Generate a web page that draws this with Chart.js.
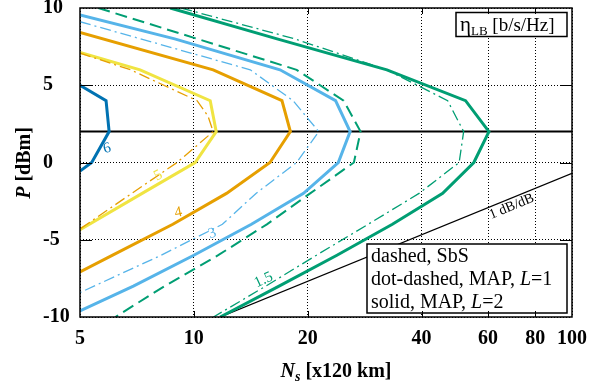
<!DOCTYPE html>
<html>
<head>
<meta charset="utf-8">
<script src="https://cdn.jsdelivr.net/npm/chart.js@4"></script>
<style>
  html, body { margin: 0; padding: 0; background: #fff; }
</style>
</head>
<body>
<canvas id="etaChart" width="605" height="387"></canvas>
<script>
// axis ticks
const xTicks = [5, 10, 20, 40, 60, 80, 100];
const yTicks = [-10, -5, 0, 5, 10];

// contours of eta_LB, each point is [Ns, P(dBm)]
const eta6Solid = [[5, 5], [5.86, 4], [5.97, 2], [5.37, 0], [5, -0.56]];
const eta5Solid = [[5, 7.12], [7.21, 6], [11.05, 4], [11.46, 2], [10.08, 0], [7.3, -2], [5, -4.35]];
const eta4DotDash = [[5, 7.08], [6.8, 6], [10.2, 4], [10.9, 3], [11.25, 2], [9.03, 0], [6.85, -2], [5, -4.3]];
const eta4Solid = [[5, 8.42], [11.25, 6], [17.1, 4], [18.0, 2], [15.9, 0], [12.2, -2], [8.8, -4], [6.1, -6], [5, -7.08]];
const eta3DotDash = [[5, 9.11], [14.1, 6], [18.3, 4], [21.4, 2], [18.7, 0], [14.6, -2], [11.9, -4], [8.2, -6], [5, -8.42]];
const eta3Solid = [[5, 9.55], [8.9, 8], [16.9, 6], [23.7, 4], [25.9, 2], [24.1, 0], [19.5, -2], [14.2, -4], [10, -6], [6.92, -8], [5, -9.61]];
const eta15Dash = [[5.59, 10], [18.7, 6], [24.9, 4], [27.6, 2], [26.5, 0], [20.3, -2], [15.6, -4], [11.6, -6], [8.37, -8], [6.2, -10]];
const eta15DotDash = [[9.26, 10], [18.5, 8], [32.4, 6], [46.9, 4], [51.7, 2], [50.3, 0], [39.4, -2], [28.9, -4], [21.1, -6], [15.5, -8], [11.27, -10]];
const eta15Solid = [[8.66, 10], [16.6, 8], [32.4, 6], [52.3, 4], [60.3, 2], [55, 0], [45.5, -2], [33.5, -4], [23.9, -6], [16.8, -8], [11.74, -10]];

// reference lines
const p2Line = [[5, 2], [100, 2]];
const slopeLine = [[11.74, -10], [100, -0.7]]; // 1 dB/dB

const colors = { blue: '#0072B2', yellow: '#F0E442', orange: '#E69F00', sky: '#56B4E9', green: '#009E73' };
const styles = {
  solid: { width: 3, dash: [] },
  dotdash: { width: 1.3, dash: [11, 4, 2, 4] },
  dash: { width: 2, dash: [12, 6] }
};

function curve(pts, color, style) {
  return {
    data: pts.map(p => ({ x: p[0], y: p[1] })),
    borderColor: color,
    borderWidth: styles[style].width,
    borderDash: styles[style].dash,
    pointRadius: 0,
    fill: false,
    tension: 0
  };
}

// draw text made of pieces with different fonts
function drawRich(ctx, segs, x, y, align) {
  let w = 0;
  segs.forEach(s => { ctx.font = s.font; s.w = ctx.measureText(s.text).width; w += s.w; });
  let cx = align === 'center' ? x - w / 2 : x;
  ctx.textAlign = 'left';
  segs.forEach(s => { ctx.font = s.font; ctx.fillText(s.text, cx, y + (s.dy || 0)); cx += s.w; });
}

const serif = '"Liberation Serif", "Times New Roman", serif';

const decor = {
  id: 'decor',
  afterDatasetsDraw(chart) {
    const { ctx, chartArea: a, scales: { x, y } } = chart;
    ctx.save();

    // contour level labels
    const labels = [
      { t: '6', ns: 5.9, p: 0.9, c: colors.blue, r: -15 },
      { t: '5', ns: 8.05, p: -0.84, c: colors.yellow, r: -28 },
      { t: '4', ns: 9.1, p: -3.25, c: colors.orange, r: -12 },
      { t: '3', ns: 11.2, p: -4.6, c: colors.sky, r: -18 },
      { t: '1.5', ns: 15.3, p: -7.6, c: colors.green, r: -25 }
    ];
    ctx.font = '15px ' + serif;
    ctx.textAlign = 'center';
    ctx.textBaseline = 'middle';
    labels.forEach(l => {
      ctx.save();
      ctx.translate(x.getPixelForValue(l.ns), y.getPixelForValue(l.p));
      ctx.rotate(l.r * Math.PI / 180);
      ctx.fillStyle = l.c;
      ctx.fillText(l.t, 0, 0);
      ctx.restore();
    });

    // 1 dB/dB label along the slope line
    const x1 = x.getPixelForValue(slopeLine[0][0]), y1 = y.getPixelForValue(slopeLine[0][1]);
    const x2 = x.getPixelForValue(slopeLine[1][0]), y2 = y.getPixelForValue(slopeLine[1][1]);
    const ang = Math.atan2(y2 - y1, x2 - x1);
    const lx = x.getPixelForValue(68);
    const ly = y1 + (lx - x1) * (y2 - y1) / (x2 - x1);
    ctx.save();
    ctx.translate(lx, ly);
    ctx.rotate(ang);
    ctx.fillStyle = '#000';
    ctx.font = '14px ' + serif;
    ctx.textAlign = 'center';
    ctx.textBaseline = 'top';
    ctx.fillText('1 dB/dB', 0, 1);
    ctx.restore();

    // legend box
    ctx.fillStyle = '#fff';
    ctx.strokeStyle = '#000';
    ctx.lineWidth = 1.5;
    ctx.fillRect(367, 244, 200, 69);
    ctx.strokeRect(367, 244, 200, 69);
    ctx.fillStyle = '#000';
    ctx.textBaseline = 'alphabetic';
    const f = '20px ' + serif, fi = 'italic 20px ' + serif;
    drawRich(ctx, [{ text: 'dashed, SbS', font: f }], 371, 262);
    drawRich(ctx, [{ text: 'dot-dashed, MAP, ', font: f }, { text: 'L', font: fi }, { text: '=1', font: f }], 371, 285);
    drawRich(ctx, [{ text: 'solid, MAP, ', font: f }, { text: 'L', font: fi }, { text: '=2', font: f }], 371, 308);

    // eta box
    ctx.fillStyle = '#fff';
    ctx.fillRect(456, 12.5, 111, 24);
    ctx.strokeRect(456, 12.5, 111, 24);
    ctx.fillStyle = '#000';
    drawRich(ctx, [
      { text: '\u03b7', font: '21px ' + serif },
      { text: 'LB', font: '13px ' + serif, dy: 4 },
      { text: ' [b/s/Hz]', font: '19px ' + serif }
    ], 460, 31);

    // frame
    ctx.lineWidth = 1.5;
    ctx.strokeRect(a.left, a.top, a.width, a.height);

    // inward tick marks
    ctx.lineWidth = 1;
    ctx.beginPath();
    xTicks.slice(1, -1).forEach(v => {
      const px = Math.round(x.getPixelForValue(v)) + 0.5;
      ctx.moveTo(px, a.bottom); ctx.lineTo(px, a.bottom - 6);
      ctx.moveTo(px, a.top); ctx.lineTo(px, a.top + 6);
    });
    yTicks.slice(1, -1).forEach(v => {
      const py = Math.round(y.getPixelForValue(v)) + 0.5;
      ctx.moveTo(a.left, py); ctx.lineTo(a.left + 12, py);
      ctx.moveTo(a.right, py); ctx.lineTo(a.right - 12, py);
    });
    ctx.stroke();
    ctx.restore();
  },
  afterDraw(chart) {
    const { ctx } = chart;
    ctx.save();
    ctx.fillStyle = '#000';
    ctx.textBaseline = 'alphabetic';
    // y title
    ctx.translate(30, 163);
    ctx.rotate(-Math.PI / 2);
    drawRich(ctx, [
      { text: 'P', font: 'italic bold 20px ' + serif },
      { text: ' [dBm]', font: 'bold 20px ' + serif }
    ], 0, 0, 'center');
    ctx.restore();
    ctx.save();
    ctx.fillStyle = '#000';
    // x title
    drawRich(ctx, [
      { text: 'N', font: 'italic bold 20px ' + serif },
      { text: 's', font: 'italic bold 14px ' + serif, dy: 4 },
      { text: ' [x120 km]', font: 'bold 20px ' + serif }
    ], 336, 377, 'center');
    ctx.restore();
  }
};

const tickFont = { family: serif, size: 20, weight: 'bold' };

const ctx = document.getElementById('etaChart').getContext('2d');
const etaChart = new Chart(ctx, {
  type: 'line',
  data: {
    datasets: [
      curve(eta15Dash, colors.green, 'dash'),
      curve(eta15DotDash, colors.green, 'dotdash'),
      curve(eta15Solid, colors.green, 'solid'),
      curve(eta3DotDash, colors.sky, 'dotdash'),
      curve(eta3Solid, colors.sky, 'solid'),
      curve(eta4DotDash, colors.orange, 'dotdash'),
      curve(eta4Solid, colors.orange, 'solid'),
      curve(eta5Solid, colors.yellow, 'solid'),
      curve(eta6Solid, colors.blue, 'solid'),
      Object.assign(curve(p2Line, '#000', 'solid'), { borderWidth: 2 }),
      Object.assign(curve(slopeLine, '#000', 'solid'), { borderWidth: 1.3 })
    ]
  },
  options: {
    responsive: false,
    animation: false,
    layout: { padding: { left: 43, right: 33, top: 8, bottom: 0 } },
    plugins: { legend: { display: false }, tooltip: { enabled: false } },
    scales: {
      x: {
        type: 'logarithmic',
        min: 5,
        max: 100,
        afterBuildTicks: s => { s.ticks = xTicks.map(v => ({ value: v })); },
        afterFit: s => { s.height = 70; s.paddingLeft = 0; s.paddingRight = 0; },
        ticks: { callback: v => String(v), color: '#000', font: tickFont, padding: 10, maxRotation: 0, autoSkip: false },
        grid: { color: '#000', lineWidth: 1, drawTicks: false },
        border: { display: false, dash: [1, 2] }
      },
      y: {
        min: -10,
        max: 10,
        afterBuildTicks: s => { s.ticks = yTicks.map(v => ({ value: v })); },
        afterFit: s => { s.width = 37; s.paddingTop = 0; s.paddingBottom = 0; },
        ticks: { color: '#000', font: tickFont, crossAlign: 'far', padding: 0, autoSkip: false },
        grid: { color: '#000', lineWidth: 1, drawTicks: false },
        border: { display: false, dash: [1, 2] }
      }
    }
  },
  plugins: [decor]
});
</script>
</body>
</html>
